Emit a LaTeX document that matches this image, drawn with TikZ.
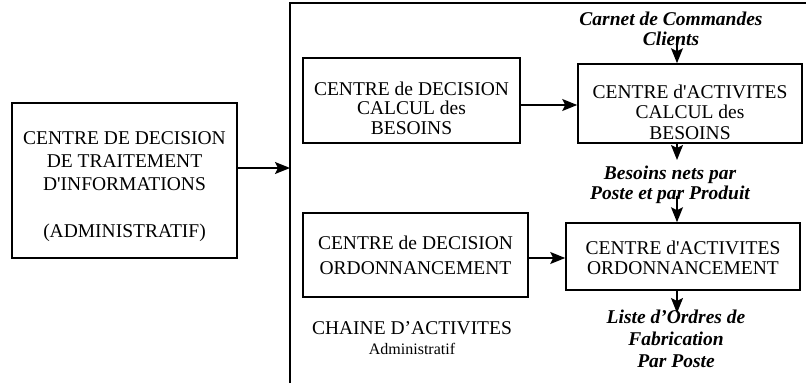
\documentclass[tikz,border=0pt]{standalone}
\usepackage{fontspec}
\setmainfont{Liberation Serif}[Ligatures=TeXOff]
\usetikzlibrary{arrows.meta}
\begin{document}
\begin{tikzpicture}[x=1pt,y=-1pt,
  box/.style={draw,line width=1.6pt,inner sep=0pt,align=center},
  lbl/.style={inner sep=0pt,align=center},
  arr/.style={line width=1.4pt,-{Stealth[length=15pt,width=12pt,inset=3pt]}},
  frame/.style={line width=1.6pt}]
\useasboundingbox (0,0) rectangle (806,383);
\draw[frame] (290,383) -- (290,3) -- (806,3);
\node[box,minimum width=225pt,minimum height=155pt,font=\fontsize{19.5}{23}\selectfont] (adm) at (124.5,180.5)
  {\rule{0pt}{25pt}CENTRE DE DECISION\\DE TRAITEMENT\\D'INFORMATIONS\\[24pt](ADMINISTRATIF)};
\node[box,minimum width=217pt,minimum height=85pt,font=\fontsize{19.5}{19.5}\selectfont] (dcb) at (411.5,100.5)
  {\rule{0pt}{29pt}CENTRE de DECISION\\CALCUL des\\BESOINS};
\node[box,minimum width=224pt,minimum height=79pt,font=\fontsize{19.5}{20.5}\selectfont] (acb) at (690,103.5)
  {\rule{0pt}{31pt}CENTRE d'ACTIVITES\\CALCUL des\\BESOINS};
\node[box,minimum width=225pt,minimum height=84pt,font=\fontsize{19.5}{25}\selectfont] (dor) at (415.5,255)
  {CENTRE de DECISION\\ORDONNANCEMENT};
\node[box,minimum width=234pt,minimum height=67pt,font=\fontsize{19.5}{20}\selectfont] (aor) at (683,256.5)
  {\rule{0pt}{16pt}CENTRE d'ACTIVITES\\ORDONNANCEMENT};
\node[lbl,font=\fontsize{19.5}{20}\selectfont\bfseries\itshape] (carnet) at (671,28.5)
  {Carnet de Commandes\\Clients};
\node[lbl,font=\fontsize{19.5}{20}\selectfont\bfseries\itshape] (besoins) at (670,185)
  {Besoins nets par\\Poste et par Produit};
\node[lbl,font=\fontsize{19.5}{22}\selectfont\bfseries\itshape] (liste) at (676,339)
  {Liste d’Ordres de\\Fabrication\\Par Poste};
\node[lbl,font=\fontsize{19.5}{20}\selectfont] (chaine) at (412,338.5)
  {CHAINE D’ACTIVITES\\{\fontsize{16}{20}\selectfont Administratif}};
\coordinate (fin) at (290,168);
\draw[arr] (adm.east |- fin) -- (fin);
\coordinate (m1) at (0,105);
\draw[arr] (dcb.east |- m1) -- (acb.west |- m1);
\coordinate (m2) at (0,258);
\draw[arr] (dor.east |- m2) -- (aor.west |- m2);
\coordinate (c1) at (677,37);
\draw[arr] (c1) -- (c1 |- acb.north);
\coordinate (c2) at (677,160);
\draw[arr] (c2 |- acb.south) -- (c2);
\coordinate (c3) at (677,196);
\draw[arr] (c3) -- (c3 |- aor.north);
\coordinate (c4) at (677,313);
\draw[arr] (c4 |- aor.south) -- (c4);
\end{tikzpicture}
\end{document}
